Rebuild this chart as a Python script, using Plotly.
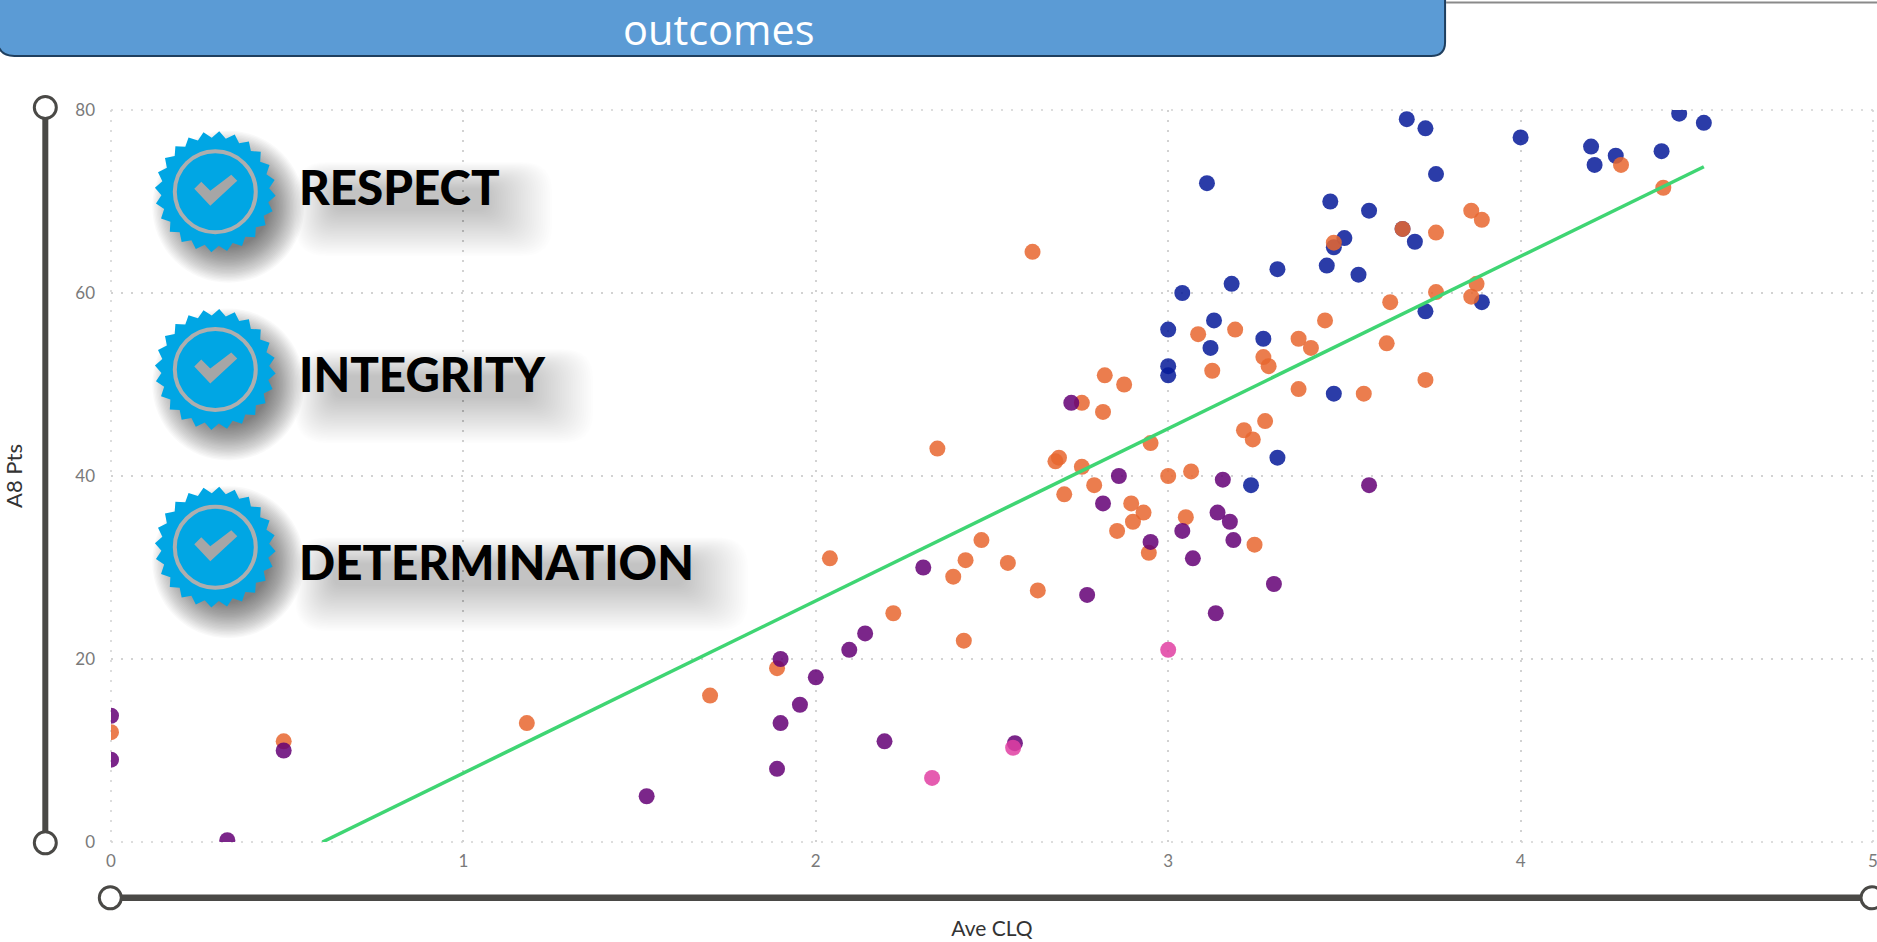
import math
import plotly.graph_objects as go

# ---------- data ----------
blue_x = [3.677,3.73,4.45,4.52,4.0,4.2,4.21,4.27,4.4,3.76,3.11,3.46,3.57,3.665,3.5,3.7,3.47,3.45,3.54,3.31,3.18,3.04,3.73,3.89,3.0,3.13,3.12,3.27,3.0,3.0,3.47,3.31,3.235]
blue_y = [79,78,79.6,78.6,77,76,74,75,75.5,73,72,70,69,67,66,65.6,65,63,62,62.6,61,60,58,59,56,57,54,55,52,51,49,42,39]
orange_x = [2.615,3.47,3.86,3.89,3.76,3.665,4.285,4.405,3.875,3.76,3.86,3.63,3.445,3.19,3.085,3.37,3.62,3.405,3.27,3.285,3.125,2.82,2.875,3.73,3.37,3.555,2.755,2.815,3.275,3.215,3.24,2.95,2.345,2.69,2.68,2.755,3.065,3.0,2.79,2.705,2.895,2.93,3.05,2.9,2.855,3.245,2.945,2.04,2.545,2.425,2.47,2.39,2.63,2.22,2.42,1.89,1.70,1.18,0.49,0]
orange_y = [64.5,65.5,69,68,66.6,67,74,71.5,61,60.1,59.6,59,57,56,55.5,55,54.5,54,53,52,51.5,51,50,50.5,49.5,49,48,47,46,45,44,43.6,43,42,41.6,41,40.5,40,39,38,37,36,35.5,35,34,32.5,31.6,31,30.5,30.8,33,29,27.5,25,22,19,16,13,11,12]
purple_x = [2.725,2.86,3.57,3.155,2.815,3.14,3.175,3.04,3.185,2.95,3.07,2.305,3.3,2.77,3.135,2.14,2.095,1.9,2.0,1.955,1.9,2.195,1.89,1.52,2.565,0.49,0,0,0.33]
purple_y = [48,40,39,39.6,37,36,35,34,33,32.8,31,30,28.2,27,25,22.8,21,20,18,15,13,11,8,5,10.8,10,13.8,9,0.2]
pink_x = [3.0,2.33,2.56]
pink_y = [21,7,10.3]
trend_x = [0.6,4.52]
trend_y = [0,73.8]
x_ticks = [0,1,2,3,4,5]
y_ticks = [0,20,40,60,80]
title_text = "outcomes"
x_title = "Ave CLQ"
y_title = "A8 Pts"
values_text = ["RESPECT","INTEGRITY","DETERMINATION"]

# ---------- layout geometry ----------
W, H = 1877, 942
L, R, T, B = 110.7, 4, 110, 100.3
def px(x): return (x-L)/(W-L-R)
def py(y): return 1-(y-T)/(H-T-B)

GRID = "#D2D2D2"
shapes = []
# grid lines that fall on the edge of the plot area
for xv in (0,1):
    shapes.append(dict(type="line", xref="paper", yref="paper", x0=xv, x1=xv, y0=0, y1=1, layer="below",
                       line=dict(color=GRID, width=1.5, dash="2px,8px")))
for yv in (0,1):
    shapes.append(dict(type="line", xref="paper", yref="paper", x0=0, x1=1, y0=yv, y1=yv, layer="below",
                       line=dict(color=GRID, width=1.5, dash="2px,8px")))

def pth(d, fill, line=None, lw=0, opacity=1.0):
    shapes.append(dict(type="path", path=d, xref="paper", yref="paper", fillcolor=fill,
                       line=dict(color=line or "rgba(0,0,0,0)", width=lw), opacity=opacity, layer="above"))
def P(x,y): return f"{px(x):.6f},{py(y):.6f}"
def circle(cx,cy,r,fill,line=None,lw=0,opacity=1.0):
    shapes.append(dict(type="circle", xref="paper", yref="paper",
                       x0=px(cx-r), x1=px(cx+r), y0=py(cy+r), y1=py(cy-r), fillcolor=fill,
                       line=dict(color=line or "rgba(0,0,0,0)", width=lw), opacity=opacity, layer="above"))
def rrect(x0,y0,x1,y1,r,fill,opacity=1.0):
    d = (f"M {P(x0+r,y0)} L {P(x1-r,y0)} Q {P(x1,y0)} {P(x1,y0+r)} L {P(x1,y1-r)} Q {P(x1,y1)} {P(x1-r,y1)} "
         f"L {P(x0+r,y1)} Q {P(x0,y1)} {P(x0,y1-r)} L {P(x0,y0+r)} Q {P(x0,y0)} {P(x0+r,y0)} Z")
    pth(d, fill, opacity=opacity)

# header bar
pth(f"M {P(-3,-6)} L {P(1445,-6)} L {P(1445,42)} Q {P(1445,56)} {P(1431,56)} L {P(14,56)} Q {P(-1,56)} {P(-3,42)} Z",
    "#5B9BD5", "#1F3F5F", 2)
shapes.append(dict(type="line", xref="paper", yref="paper", x0=px(1446), x1=px(1877), y0=py(2.5), y1=py(2.5),
                   line=dict(color="#8a8a8a", width=2), layer="above"))

# sliders
SL = "#4A4946"
shapes.append(dict(type="line", xref="paper", yref="paper", x0=px(45), x1=px(45), y0=py(107), y1=py(842),
                   line=dict(color=SL, width=6), layer="above"))
shapes.append(dict(type="line", xref="paper", yref="paper", x0=px(110), x1=px(1872), y0=py(897.5), y1=py(897.5),
                   line=dict(color=SL, width=6.5), layer="above"))
for cx,cy in [(45,107.5),(45,842.5),(110,897.5),(1872,897.5)]:
    circle(cx,cy,11,"#ffffff",SL,3)

# badges
def badge(cx,cy):
    for i in range(26):
        circle(cx+13,cy+15,76-i*1.4,"#000000",opacity=0.022)
    pts=[]
    n=24
    for k in range(n*2):
        a=math.pi*k/n - math.pi/2 + math.pi/n*0.5
        r=60.5 if k%2==0 else 54
        pts.append(P(cx+r*math.cos(a),cy+r*math.sin(a)))
    pth("M "+" L ".join(pts)+" Z","#00A6E4")
    circle(cx,cy,40.5,"rgba(0,0,0,0)","#AEAEAE",4)
    chk=[(-21,-3),(-14,-10),(-5,-1),(16,-17),(22,-11),(-5,14)]
    pth("M "+" L ".join(P(cx+a,cy+b) for a,b in chk)+" Z","#A6A6A6")

def text_shadow(x0,x1,yc):
    for i in range(30):
        rrect(x0-6+i*1.3,yc-24+i*0.9,x1+52-i*2.2,yc+70-i*1.55,30-i*0.7,"#000000",opacity=0.0085)

rows = [(191.7,186,301,500),(369.4,373,301,541),(547,561,301,696)]
annotations=[]
for (by,ty,x0,x1),label in zip(rows,values_text):
    badge(215,by)
    text_shadow(x0,x1,ty)
    annotations.append(dict(text=label, xref="paper", yref="paper", x=px(x0-4.5), y=py(ty), xanchor="left", yanchor="middle",
                            showarrow=False, font=dict(family="Lato", size=47.5, color="#000000", weight=900)))
annotations.append(dict(text=title_text, xref="paper", yref="paper", x=px(719), y=py(29), xanchor="center", yanchor="middle",
                        showarrow=False, font=dict(family="Open Sans", size=41.5, color="#ffffff")))

# ---------- figure ----------
fig = go.Figure()
def scatter(x,y,color):
    fig.add_trace(go.Scatter(x=x,y=y,mode="markers",marker=dict(color=color,size=16,opacity=0.85,line=dict(width=0)),showlegend=False))
scatter(blue_x,blue_y,"#061A99")
scatter(orange_x,orange_y,"#E8662F")
scatter(purple_x,purple_y,"#640075")
scatter(pink_x,pink_y,"#E040A2")
fig.add_trace(go.Scatter(x=trend_x,y=trend_y,mode="lines",line=dict(color="#3FD573",width=3.5),showlegend=False))

grid = dict(showgrid=True, gridcolor=GRID, griddash="2px,8px", gridwidth=1.5, zeroline=False, showline=False,
            ticks="", tickfont=dict(family="Lato", size=17, color="#7a7a7a"), ticklabeloverflow="allow")
fig.update_xaxes(range=[0,5], tickvals=x_ticks, ticklabelstandoff=7,
                 title=dict(text=x_title, standoff=51, font=dict(family="Lato",size=21,color="#333333")), **grid)
fig.update_yaxes(range=[0,80], tickvals=y_ticks, ticklabelstandoff=15,
                 title=dict(text=y_title, standoff=60, font=dict(family="Lato",size=22,color="#333333")), **grid)
fig.update_layout(width=W,height=H,margin=dict(l=L,r=R,t=T,b=B,autoexpand=False),paper_bgcolor="#ffffff",plot_bgcolor="#ffffff",
                  shapes=shapes,annotations=annotations,hovermode=False)
fig.write_html("out.html", post_script="document.body.style.margin='0';document.body.style.overflow='hidden';", config=dict(displayModeBar=False))
